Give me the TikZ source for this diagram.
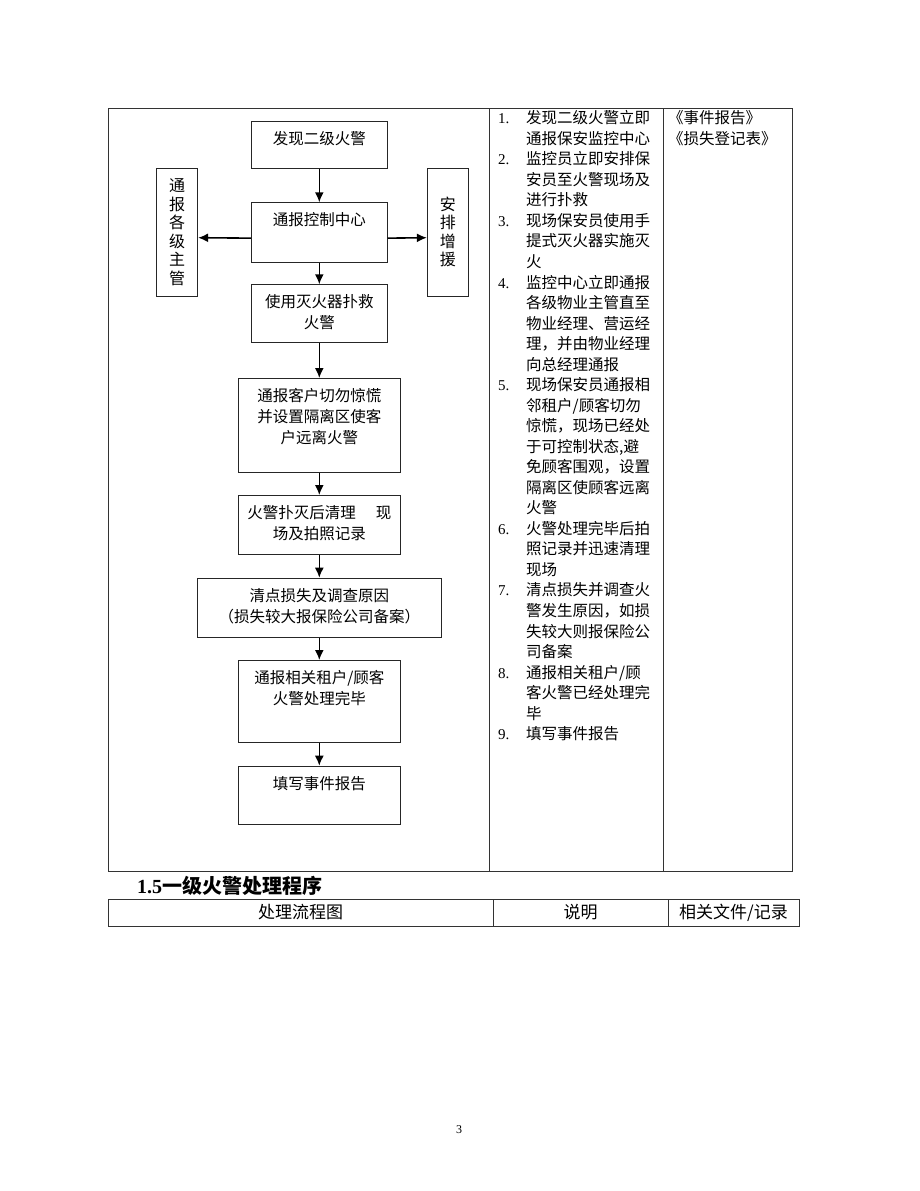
\documentclass[tikz,border=0pt]{standalone}
\usepackage{fontspec}
\setmainfont{Liberation Serif}
\newfontfamily\cjk{Noto Sans CJK SC}
\usetikzlibrary{arrows.meta}

% text of a flow box, set from the top of the box
\newcommand{\flowtext}[3]{\parbox[c][#2][t]{#1}{\centering\cjk\fontsize{15.5}{21}\selectfont\rule{0pt}{23pt}#3}}

\tikzset{
  flow/.style={draw=black!85, line width=0.9pt, inner sep=0pt, anchor=north},
  sidebox/.style={draw=black!85, line width=0.9pt, minimum width=41pt, minimum height=128pt,
    align=center, font=\cjk\fontsize{16}{18.5}\selectfont},
  link/.style={line width=1.6pt, -{Latex[length=10pt,width=9pt]}},
  frame/.style={draw=black!80, line width=0.8pt},
  item/.style={anchor=base west, inner sep=0pt, font=\cjk\fontsize{15.5}{20}\selectfont},
  num/.style={anchor=base west, inner sep=0pt, font=\fontsize{15}{18}\selectfont},
  head/.style={inner sep=0pt, font=\cjk\fontsize{17}{20}\selectfont},
}

\begin{document}
\begin{tikzpicture}[x=1pt,y=-1pt]
\useasboundingbox (0,0) rectangle (920,1191);

% table of 1.4
\draw[frame] (108,108) rectangle (792,871);
\draw[frame] (489.5,108) -- (489.5,871);
\draw[frame] (663,108) -- (663,871);

% flow chart
\node[flow] (find) at (319.3,120.7) {\flowtext{135.5pt}{47pt}{发现二级火警}};
\node[flow] (centre) at (319.3,202.3) {\flowtext{135.5pt}{59.4pt}{通报控制中心}};
\node[flow] (fight) at (319.3,284.3) {\flowtext{135.5pt}{57.7pt}{使用灭火器扑救\\火警}};
\node[sidebox] (heads) at (177.2,232) {通\\报\\各\\级\\主\\管};
\node[sidebox] (backup) at (447.8,232) {安\\排\\增\\援};
\node[flow] (guests) at (319.3,378) {\flowtext{162.7pt}{93.7pt}{通报客户切勿惊慌\\并设置隔离区使客\\户远离火警}};
\node[flow] (clean) at (319.3,495) {\flowtext{162.7pt}{59pt}{火警扑灭后清理\hspace{20pt}现\\场及拍照记录}};
\node[flow] (loss) at (319.3,577.7) {\flowtext{244pt}{59pt}{清点损失及调查原因\\（损失较大报保险公司备案）}};
\node[flow] (tenants) at (319.3,660) {\flowtext{162.7pt}{81.7pt}{通报相关租户/顾客\\火警处理完毕}};
\node[flow] (report) at (319.3,765.7) {\flowtext{162.7pt}{58pt}{填写事件报告}};

\draw[link] (find.south) -- (centre.north);
\draw[link] (centre.south) -- (fight.north);
\draw[link] ([yshift=-5.7pt]centre.west) -- ([yshift=-5.7pt]heads.east);
\draw[link] ([yshift=-5.7pt]centre.east) -- ([yshift=-5.7pt]backup.west);
\draw[link] (fight.south) -- (guests.north);
\draw[link] (guests.south) -- (clean.north);
\draw[link] (clean.south) -- (loss.north);
\draw[link] (loss.south) -- (tenants.north);
\draw[link] (tenants.south) -- (report.north);

% notes
\foreach \k/\n in {0/1,2/2,5/3,8/4,13/5,20/6,23/7,27/8,30/9}
  \node[num] (n\n) at (498,{123.8+20.53*\k}) {\n.};
\foreach \k/\t in {0/{发现二级火警立即},1/{通报保安监控中心},2/{监控员立即安排保},
  3/{安员至火警现场及},4/{进行扑救},5/{现场保安员使用手},6/{提式灭火器实施灭},7/{火},
  8/{监控中心立即通报},9/{各级物业主管直至},10/{物业经理、营运经},11/{理，并由物业经理},
  12/{向总经理通报},13/{现场保安员通报相},14/{邻租户/顾客切勿},15/{惊慌，现场已经处},
  16/{于可控制状态,避},17/{免顾客围观，设置},18/{隔离区使顾客远离},19/{火警},
  20/{火警处理完毕后拍},21/{照记录并迅速清理},22/{现场},23/{清点损失并调查火},
  24/{警发生原因，如损},25/{失较大则报保险公},26/{司备案},27/{通报相关租户/顾},
  28/{客火警已经处理完},29/{毕},30/{填写事件报告}}
  \node[item] (l\k) at (526,{123.8+20.53*\k}) {\t};

% records
\node[item] (doc1) at (668,123.8) {《事件报告》};
\node[item] (doc2) at (668,144.3) {《损失登记表》};

% next section
\node[anchor=west, inner sep=0pt, font=\bfseries\fontsize{20}{24}\selectfont] (title) at (137,886)
  {1.5{\cjk 一级火警处理程序}};
\draw[frame] (108,899) rectangle (799,926);
\draw[frame] (493,899) -- (493,926);
\draw[frame] (668,899) -- (668,926);
\node[head] (h1) at (300.5,912.5) {处理流程图};
\node[head] (h2) at (580.5,912.5) {说明};
\node[head] (h3) at (733.5,912.5) {相关文件/记录};

\node[inner sep=0pt, font=\fontsize{12}{14}\selectfont] (page) at (459,1130) {3};
\end{tikzpicture}
\end{document}
